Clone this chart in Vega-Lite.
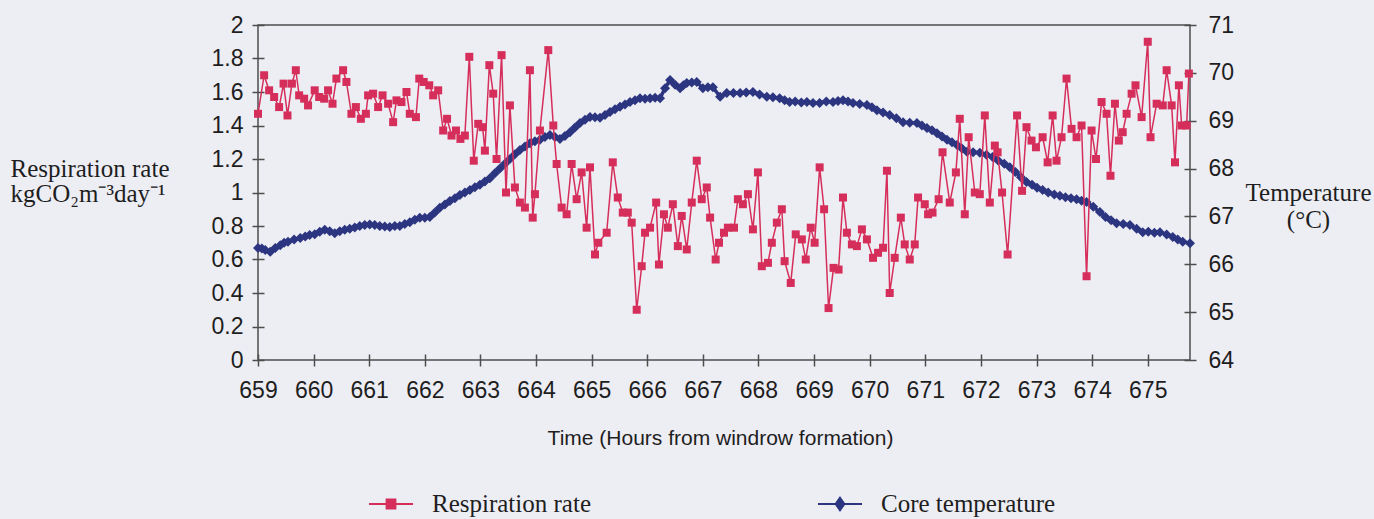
{
  "$schema": "https://vega.github.io/schema/vega-lite/v6.json",
  "width": 932,
  "height": 335,
  "autosize": {"type": "none"},
  "padding": {"left": 258, "top": 25, "right": 184, "bottom": 159},
  "background": "#EDEDF4",
  "config": {
    "view": {"stroke": "#4d4d4d", "strokeWidth": 1.5},
    "axis": {
      "domain": false,
      "grid": false,
      "tickColor": "#4d4d4d",
      "tickWidth": 1.5,
      "tickSize": 12,
      "offset": -6,
      "labelFont": "Liberation Sans",
      "labelFontSize": 23,
      "labelColor": "#1e1e1e",
      "labelFlush": false,
      "labelOverlap": false,
      "titleColor": "#1e1e1e",
      "titleFontWeight": "normal",
      "titleAngle": 0,
      "titleBaseline": "alphabetic"
    }
  },
  "datasets": {
    "temperature": [
      {"hour": 659.00, "temp": 66.34}, {"hour": 659.07, "temp": 66.33}, {"hour": 659.13, "temp": 66.30}, {"hour": 659.22, "temp": 66.26},
      {"hour": 659.31, "temp": 66.34}, {"hour": 659.40, "temp": 66.40}, {"hour": 659.47, "temp": 66.45}, {"hour": 659.54, "temp": 66.47},
      {"hour": 659.65, "temp": 66.52}, {"hour": 659.76, "temp": 66.55}, {"hour": 659.85, "temp": 66.58}, {"hour": 659.93, "temp": 66.61},
      {"hour": 660.02, "temp": 66.63}, {"hour": 660.11, "temp": 66.68}, {"hour": 660.20, "temp": 66.72}, {"hour": 660.29, "temp": 66.69},
      {"hour": 660.38, "temp": 66.65}, {"hour": 660.47, "temp": 66.69}, {"hour": 660.56, "temp": 66.72}, {"hour": 660.65, "temp": 66.74},
      {"hour": 660.74, "temp": 66.77}, {"hour": 660.83, "temp": 66.80}, {"hour": 660.92, "temp": 66.82}, {"hour": 661.01, "temp": 66.83},
      {"hour": 661.10, "temp": 66.82}, {"hour": 661.19, "temp": 66.80}, {"hour": 661.28, "temp": 66.79}, {"hour": 661.37, "temp": 66.78},
      {"hour": 661.46, "temp": 66.80}, {"hour": 661.55, "temp": 66.80}, {"hour": 661.64, "temp": 66.84}, {"hour": 661.73, "temp": 66.88},
      {"hour": 661.82, "temp": 66.93}, {"hour": 661.91, "temp": 66.97}, {"hour": 662.00, "temp": 66.97}, {"hour": 662.09, "temp": 66.99},
      {"hour": 662.18, "temp": 67.08}, {"hour": 662.27, "temp": 67.18}, {"hour": 662.36, "temp": 67.25}, {"hour": 662.45, "temp": 67.32},
      {"hour": 662.54, "temp": 67.38}, {"hour": 662.63, "temp": 67.45}, {"hour": 662.72, "temp": 67.50}, {"hour": 662.81, "temp": 67.55},
      {"hour": 662.90, "temp": 67.61}, {"hour": 662.99, "temp": 67.66}, {"hour": 663.08, "temp": 67.73}, {"hour": 663.17, "temp": 67.80},
      {"hour": 663.26, "temp": 67.90}, {"hour": 663.35, "temp": 68.00}, {"hour": 663.44, "temp": 68.10}, {"hour": 663.53, "temp": 68.20},
      {"hour": 663.62, "temp": 68.30}, {"hour": 663.71, "temp": 68.39}, {"hour": 663.80, "temp": 68.46}, {"hour": 663.89, "temp": 68.53},
      {"hour": 663.98, "temp": 68.57}, {"hour": 664.07, "temp": 68.60}, {"hour": 664.16, "temp": 68.66}, {"hour": 664.25, "temp": 68.70},
      {"hour": 664.34, "temp": 68.66}, {"hour": 664.43, "temp": 68.62}, {"hour": 664.52, "temp": 68.68}, {"hour": 664.61, "temp": 68.76},
      {"hour": 664.70, "temp": 68.86}, {"hour": 664.79, "temp": 68.95}, {"hour": 664.88, "temp": 69.02}, {"hour": 664.97, "temp": 69.08},
      {"hour": 665.06, "temp": 69.07}, {"hour": 665.15, "temp": 69.06}, {"hour": 665.24, "temp": 69.12}, {"hour": 665.33, "temp": 69.18},
      {"hour": 665.42, "temp": 69.24}, {"hour": 665.51, "temp": 69.29}, {"hour": 665.60, "temp": 69.34}, {"hour": 665.69, "temp": 69.39},
      {"hour": 665.78, "temp": 69.43}, {"hour": 665.87, "temp": 69.47}, {"hour": 665.96, "temp": 69.46}, {"hour": 666.05, "temp": 69.47},
      {"hour": 666.14, "temp": 69.48}, {"hour": 666.23, "temp": 69.47}, {"hour": 666.32, "temp": 69.68}, {"hour": 666.41, "temp": 69.85},
      {"hour": 666.50, "temp": 69.75}, {"hour": 666.59, "temp": 69.68}, {"hour": 666.65, "temp": 69.74}, {"hour": 666.71, "temp": 69.79},
      {"hour": 666.80, "temp": 69.80}, {"hour": 666.89, "temp": 69.81}, {"hour": 667.00, "temp": 69.68}, {"hour": 667.09, "temp": 69.70},
      {"hour": 667.18, "temp": 69.70}, {"hour": 667.31, "temp": 69.50}, {"hour": 667.43, "temp": 69.58}, {"hour": 667.55, "temp": 69.58},
      {"hour": 667.67, "temp": 69.58}, {"hour": 667.78, "temp": 69.59}, {"hour": 667.90, "temp": 69.60}, {"hour": 668.02, "temp": 69.55},
      {"hour": 668.15, "temp": 69.50}, {"hour": 668.26, "temp": 69.49}, {"hour": 668.38, "temp": 69.47}, {"hour": 668.47, "temp": 69.43},
      {"hour": 668.56, "temp": 69.39}, {"hour": 668.66, "temp": 69.40}, {"hour": 668.77, "temp": 69.38}, {"hour": 668.87, "temp": 69.39},
      {"hour": 668.98, "temp": 69.37}, {"hour": 669.10, "temp": 69.37}, {"hour": 669.22, "temp": 69.40}, {"hour": 669.34, "temp": 69.39},
      {"hour": 669.43, "temp": 69.41}, {"hour": 669.52, "temp": 69.43}, {"hour": 669.61, "temp": 69.40}, {"hour": 669.70, "temp": 69.37},
      {"hour": 669.82, "temp": 69.35}, {"hour": 669.95, "temp": 69.33}, {"hour": 670.04, "temp": 69.28}, {"hour": 670.13, "temp": 69.22},
      {"hour": 670.24, "temp": 69.17}, {"hour": 670.36, "temp": 69.12}, {"hour": 670.48, "temp": 69.05}, {"hour": 670.60, "temp": 68.97},
      {"hour": 670.72, "temp": 68.96}, {"hour": 670.85, "temp": 68.95}, {"hour": 670.94, "temp": 68.90}, {"hour": 671.03, "temp": 68.85},
      {"hour": 671.12, "temp": 68.80}, {"hour": 671.21, "temp": 68.74}, {"hour": 671.30, "temp": 68.67}, {"hour": 671.39, "temp": 68.60},
      {"hour": 671.48, "temp": 68.55}, {"hour": 671.57, "temp": 68.49}, {"hour": 671.66, "temp": 68.42}, {"hour": 671.75, "temp": 68.35},
      {"hour": 671.86, "temp": 68.34}, {"hour": 671.98, "temp": 68.33}, {"hour": 672.10, "temp": 68.29}, {"hour": 672.21, "temp": 68.24},
      {"hour": 672.31, "temp": 68.17}, {"hour": 672.42, "temp": 68.10}, {"hour": 672.52, "temp": 68.03}, {"hour": 672.62, "temp": 67.93},
      {"hour": 672.72, "temp": 67.82}, {"hour": 672.82, "temp": 67.72}, {"hour": 672.92, "temp": 67.66}, {"hour": 673.01, "temp": 67.60},
      {"hour": 673.11, "temp": 67.55}, {"hour": 673.21, "temp": 67.50}, {"hour": 673.32, "temp": 67.46}, {"hour": 673.42, "temp": 67.43},
      {"hour": 673.52, "temp": 67.40}, {"hour": 673.62, "temp": 67.38}, {"hour": 673.72, "temp": 67.36}, {"hour": 673.81, "temp": 67.33},
      {"hour": 673.90, "temp": 67.30}, {"hour": 674.02, "temp": 67.20}, {"hour": 674.14, "temp": 67.09}, {"hour": 674.24, "temp": 66.99},
      {"hour": 674.34, "temp": 66.92}, {"hour": 674.44, "temp": 66.86}, {"hour": 674.56, "temp": 66.84}, {"hour": 674.68, "temp": 66.82},
      {"hour": 674.80, "temp": 66.74}, {"hour": 674.91, "temp": 66.67}, {"hour": 675.01, "temp": 66.68}, {"hour": 675.12, "temp": 66.66},
      {"hour": 675.22, "temp": 66.67}, {"hour": 675.34, "temp": 66.62}, {"hour": 675.45, "temp": 66.57}, {"hour": 675.54, "temp": 66.52},
      {"hour": 675.63, "temp": 66.47}, {"hour": 675.76, "temp": 66.44}
    ],
    "respiration": [
      {"hour": 659.00, "rate": 1.47}, {"hour": 659.11, "rate": 1.70}, {"hour": 659.20, "rate": 1.61},
      {"hour": 659.29, "rate": 1.57}, {"hour": 659.38, "rate": 1.51}, {"hour": 659.46, "rate": 1.65},
      {"hour": 659.53, "rate": 1.46}, {"hour": 659.61, "rate": 1.65}, {"hour": 659.68, "rate": 1.73},
      {"hour": 659.74, "rate": 1.58}, {"hour": 659.83, "rate": 1.56}, {"hour": 659.90, "rate": 1.52},
      {"hour": 660.02, "rate": 1.61}, {"hour": 660.10, "rate": 1.57}, {"hour": 660.19, "rate": 1.56},
      {"hour": 660.26, "rate": 1.61}, {"hour": 660.34, "rate": 1.53}, {"hour": 660.41, "rate": 1.68},
      {"hour": 660.53, "rate": 1.73}, {"hour": 660.59, "rate": 1.66}, {"hour": 660.68, "rate": 1.47},
      {"hour": 660.76, "rate": 1.51}, {"hour": 660.85, "rate": 1.44}, {"hour": 660.94, "rate": 1.47},
      {"hour": 660.98, "rate": 1.58}, {"hour": 661.07, "rate": 1.59}, {"hour": 661.16, "rate": 1.51},
      {"hour": 661.24, "rate": 1.58}, {"hour": 661.34, "rate": 1.53}, {"hour": 661.43, "rate": 1.42},
      {"hour": 661.49, "rate": 1.55}, {"hour": 661.58, "rate": 1.54}, {"hour": 661.67, "rate": 1.60},
      {"hour": 661.73, "rate": 1.47}, {"hour": 661.84, "rate": 1.45}, {"hour": 661.90, "rate": 1.68},
      {"hour": 661.98, "rate": 1.66}, {"hour": 662.08, "rate": 1.64}, {"hour": 662.15, "rate": 1.58},
      {"hour": 662.24, "rate": 1.61}, {"hour": 662.33, "rate": 1.37}, {"hour": 662.40, "rate": 1.44},
      {"hour": 662.48, "rate": 1.34}, {"hour": 662.56, "rate": 1.37}, {"hour": 662.64, "rate": 1.32},
      {"hour": 662.72, "rate": 1.34}, {"hour": 662.80, "rate": 1.81}, {"hour": 662.88, "rate": 1.19},
      {"hour": 662.96, "rate": 1.41}, {"hour": 663.04, "rate": 1.39}, {"hour": 663.08, "rate": 1.25},
      {"hour": 663.16, "rate": 1.76}, {"hour": 663.23, "rate": 1.59}, {"hour": 663.29, "rate": 1.20},
      {"hour": 663.38, "rate": 1.82}, {"hour": 663.46, "rate": 1.00}, {"hour": 663.53, "rate": 1.52},
      {"hour": 663.62, "rate": 1.03}, {"hour": 663.71, "rate": 0.94}, {"hour": 663.80, "rate": 0.91},
      {"hour": 663.89, "rate": 1.73}, {"hour": 663.94, "rate": 0.85}, {"hour": 663.98, "rate": 0.99},
      {"hour": 664.07, "rate": 1.37}, {"hour": 664.22, "rate": 1.85}, {"hour": 664.31, "rate": 1.40},
      {"hour": 664.37, "rate": 1.17}, {"hour": 664.46, "rate": 0.91}, {"hour": 664.55, "rate": 0.87},
      {"hour": 664.64, "rate": 1.17}, {"hour": 664.73, "rate": 0.96}, {"hour": 664.82, "rate": 1.12},
      {"hour": 664.91, "rate": 0.79}, {"hour": 664.97, "rate": 1.15}, {"hour": 665.06, "rate": 0.63},
      {"hour": 665.12, "rate": 0.70}, {"hour": 665.27, "rate": 0.76}, {"hour": 665.38, "rate": 1.18},
      {"hour": 665.47, "rate": 0.97}, {"hour": 665.56, "rate": 0.88}, {"hour": 665.65, "rate": 0.88},
      {"hour": 665.72, "rate": 0.82}, {"hour": 665.81, "rate": 0.30}, {"hour": 665.90, "rate": 0.56},
      {"hour": 665.96, "rate": 0.76}, {"hour": 666.05, "rate": 0.79}, {"hour": 666.16, "rate": 0.94},
      {"hour": 666.21, "rate": 0.57}, {"hour": 666.30, "rate": 0.87}, {"hour": 666.37, "rate": 0.79},
      {"hour": 666.46, "rate": 0.93}, {"hour": 666.55, "rate": 0.68}, {"hour": 666.62, "rate": 0.86},
      {"hour": 666.71, "rate": 0.66}, {"hour": 666.80, "rate": 0.94}, {"hour": 666.89, "rate": 1.19},
      {"hour": 666.98, "rate": 0.96}, {"hour": 667.07, "rate": 1.03}, {"hour": 667.13, "rate": 0.85},
      {"hour": 667.23, "rate": 0.60}, {"hour": 667.29, "rate": 0.70}, {"hour": 667.38, "rate": 0.76},
      {"hour": 667.45, "rate": 0.79}, {"hour": 667.56, "rate": 0.79}, {"hour": 667.63, "rate": 0.96},
      {"hour": 667.72, "rate": 0.93}, {"hour": 667.81, "rate": 0.99}, {"hour": 667.90, "rate": 0.78},
      {"hour": 667.99, "rate": 1.12}, {"hour": 668.06, "rate": 0.56}, {"hour": 668.17, "rate": 0.58},
      {"hour": 668.24, "rate": 0.70}, {"hour": 668.33, "rate": 0.82}, {"hour": 668.42, "rate": 0.90},
      {"hour": 668.47, "rate": 0.59}, {"hour": 668.58, "rate": 0.46}, {"hour": 668.67, "rate": 0.75},
      {"hour": 668.78, "rate": 0.72}, {"hour": 668.85, "rate": 0.60}, {"hour": 668.94, "rate": 0.79},
      {"hour": 669.01, "rate": 0.70}, {"hour": 669.10, "rate": 1.15}, {"hour": 669.18, "rate": 0.90},
      {"hour": 669.26, "rate": 0.31}, {"hour": 669.35, "rate": 0.55}, {"hour": 669.44, "rate": 0.54},
      {"hour": 669.52, "rate": 0.97}, {"hour": 669.59, "rate": 0.76}, {"hour": 669.68, "rate": 0.69},
      {"hour": 669.77, "rate": 0.68}, {"hour": 669.86, "rate": 0.78}, {"hour": 669.95, "rate": 0.72},
      {"hour": 670.06, "rate": 0.61}, {"hour": 670.15, "rate": 0.64}, {"hour": 670.24, "rate": 0.67},
      {"hour": 670.31, "rate": 1.13}, {"hour": 670.36, "rate": 0.40}, {"hour": 670.45, "rate": 0.61},
      {"hour": 670.56, "rate": 0.85}, {"hour": 670.63, "rate": 0.69}, {"hour": 670.72, "rate": 0.60},
      {"hour": 670.81, "rate": 0.69}, {"hour": 670.87, "rate": 0.97}, {"hour": 670.99, "rate": 0.93},
      {"hour": 671.05, "rate": 0.87}, {"hour": 671.13, "rate": 0.88}, {"hour": 671.24, "rate": 0.96},
      {"hour": 671.31, "rate": 1.24}, {"hour": 671.44, "rate": 0.94}, {"hour": 671.55, "rate": 1.12},
      {"hour": 671.62, "rate": 1.44}, {"hour": 671.71, "rate": 0.87}, {"hour": 671.78, "rate": 1.33},
      {"hour": 671.89, "rate": 1.00}, {"hour": 671.98, "rate": 0.99}, {"hour": 672.07, "rate": 1.46},
      {"hour": 672.16, "rate": 0.94}, {"hour": 672.25, "rate": 1.28}, {"hour": 672.30, "rate": 1.24},
      {"hour": 672.38, "rate": 1.00}, {"hour": 672.48, "rate": 0.63}, {"hour": 672.65, "rate": 1.46},
      {"hour": 672.74, "rate": 1.01}, {"hour": 672.82, "rate": 1.39}, {"hour": 672.91, "rate": 1.31},
      {"hour": 672.99, "rate": 1.27}, {"hour": 673.11, "rate": 1.33}, {"hour": 673.20, "rate": 1.18},
      {"hour": 673.29, "rate": 1.46}, {"hour": 673.36, "rate": 1.19}, {"hour": 673.45, "rate": 1.33},
      {"hour": 673.54, "rate": 1.68}, {"hour": 673.63, "rate": 1.38}, {"hour": 673.72, "rate": 1.33},
      {"hour": 673.81, "rate": 1.40}, {"hour": 673.90, "rate": 0.50}, {"hour": 673.99, "rate": 1.37},
      {"hour": 674.07, "rate": 1.20}, {"hour": 674.17, "rate": 1.54}, {"hour": 674.26, "rate": 1.47},
      {"hour": 674.33, "rate": 1.10}, {"hour": 674.41, "rate": 1.53}, {"hour": 674.48, "rate": 1.31},
      {"hour": 674.55, "rate": 1.36}, {"hour": 674.62, "rate": 1.47}, {"hour": 674.71, "rate": 1.59},
      {"hour": 674.78, "rate": 1.64}, {"hour": 674.89, "rate": 1.45}, {"hour": 675.00, "rate": 1.90},
      {"hour": 675.05, "rate": 1.33}, {"hour": 675.16, "rate": 1.53}, {"hour": 675.27, "rate": 1.52},
      {"hour": 675.34, "rate": 1.73}, {"hour": 675.43, "rate": 1.52}, {"hour": 675.49, "rate": 1.18},
      {"hour": 675.56, "rate": 1.64}, {"hour": 675.61, "rate": 1.40}, {"hour": 675.70, "rate": 1.40},
      {"hour": 675.74, "rate": 1.71}
    ]
  },
  "encoding": {
    "x": {
      "field": "hour",
      "type": "quantitative",
      "scale": {"domain": [659, 675.76], "nice": false, "zero": false},
      "axis": {
        "values": [659, 660, 661, 662, 663, 664, 665, 666, 667, 668, 669, 670, 671, 672, 673, 674, 675],
        "format": "d",
        "labelPadding": 13,
        "title": "Time (Hours from windrow formation)",
        "titleFont": "Liberation Sans",
        "titleFontSize": 21,
        "titleX": 462,
        "titleY": 90,
        "titleAlign": "center"
      }
    }
  },
  "layer": [
    {
      "data": {"name": "temperature"},
      "mark": {
        "type": "line",
        "strokeWidth": 3.5,
        "point": {"shape": "diamond", "filled": true, "size": 100}
      },
      "encoding": {
        "y": {
          "field": "temp",
          "type": "quantitative",
          "scale": {"domain": [64, 71], "nice": false, "zero": false},
          "axis": {
            "orient": "right",
            "values": [64, 65, 66, 67, 68, 69, 70, 71],
            "labelPadding": 12,
            "title": ["Temperature", "(°C)"],
            "titleFont": "Liberation Serif",
            "titleFontSize": 25,
            "titleLineHeight": 27,
            "titleAlign": "center",
            "titleX": 124,
            "titleY": 175
          }
        },
        "color": {"datum": "Core temperature"}
      }
    },
    {
      "data": {"name": "respiration"},
      "mark": {
        "type": "line",
        "strokeWidth": 1.5,
        "point": {"shape": "square", "filled": true, "size": 64}
      },
      "encoding": {
        "y": {
          "field": "rate",
          "type": "quantitative",
          "scale": {"domain": [0, 2], "nice": false},
          "axis": {
            "orient": "left",
            "values": [0, 0.2, 0.4, 0.6, 0.8, 1, 1.2, 1.4, 1.6, 1.8, 2],
            "format": "~g",
            "labelPadding": 9,
            "title": ["Respiration rate", "kgCO₂m⁻³day⁻¹"],
            "titleFont": "Liberation Serif",
            "titleFontSize": 25,
            "titleLineHeight": 25,
            "titleAlign": "left",
            "titleX": -254,
            "titleY": 151
          }
        },
        "color": {
          "datum": "Respiration rate",
          "scale": {
            "domain": ["Respiration rate", "Core temperature"],
            "range": ["#D62E5A", "#2C3580"]
          },
          "legend": {
            "title": null,
            "orient": "none",
            "legendX": 110,
            "legendY": 456,
            "direction": "horizontal",
            "columns": 2,
            "columnPadding": 223,
            "padding": 0,
            "labelFont": "Liberation Serif",
            "labelFontSize": 25,
            "labelColor": "#1e1e1e",
            "labelOffset": 18,
            "labelLimit": 0,
            "symbolSize": 1936,
            "encode": {
              "symbols": {
                "update": {
                  "shape": {"signal": "datum.value === 'Respiration rate' ? 'M-1,0H1M-0.2,-0.2H0.2V0.2H-0.2Z' : 'M-1,0H1M0,-0.28L0.2,0L0,0.28L-0.2,0Z'"},
                  "fill": {"signal": "datum.value === 'Respiration rate' ? '#D62E5A' : '#2C3580'"},
                  "stroke": {"signal": "datum.value === 'Respiration rate' ? '#D62E5A' : '#2C3580'"},
                  "strokeWidth": {"value": 2},
                  "opacity": {"value": 1}
                }
              }
            }
          }
        }
      }
    }
  ],
  "resolve": {"scale": {"y": "independent"}}
}
